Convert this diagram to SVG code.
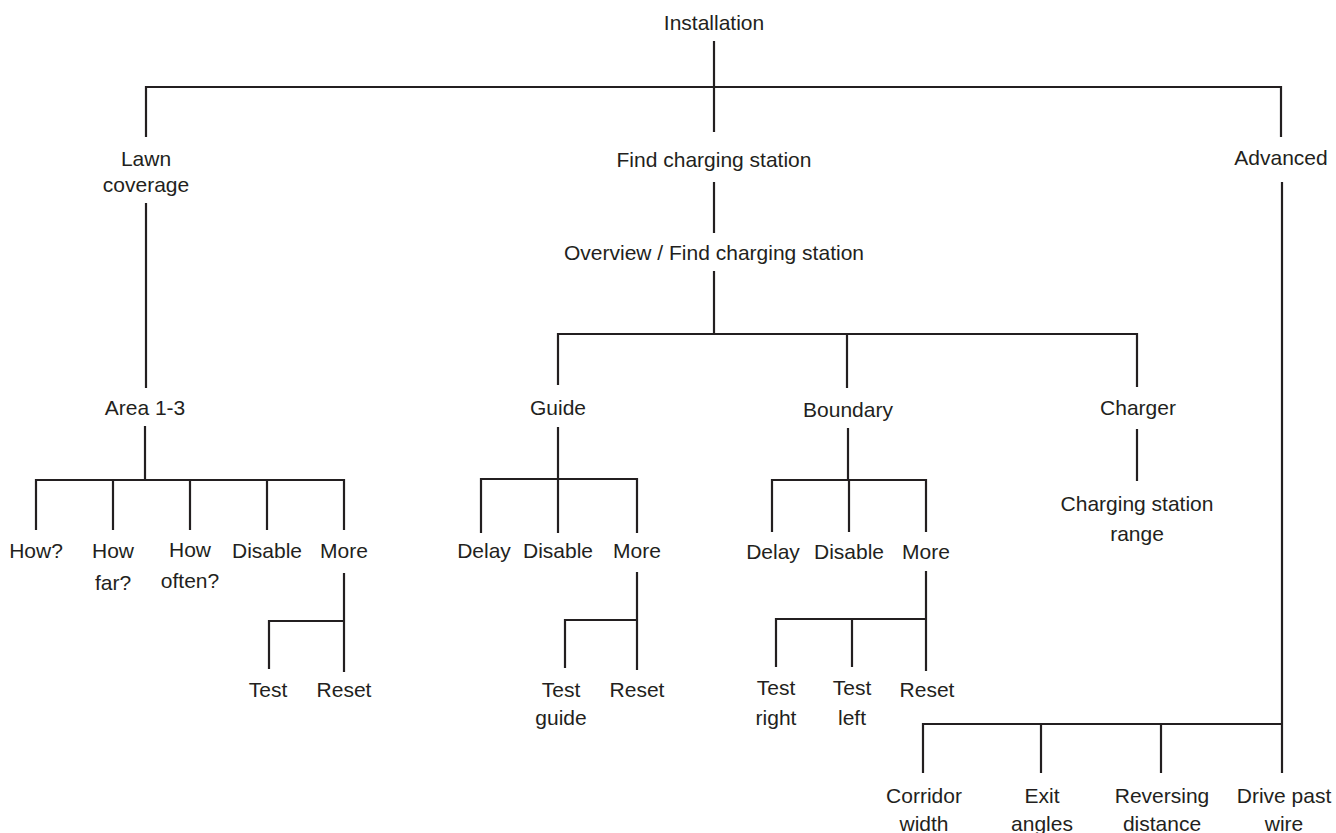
<svg xmlns="http://www.w3.org/2000/svg" width="1336" height="833" viewBox="0 0 1336 833">
<style>
text{font-family:"Liberation Sans",Arial,sans-serif;font-size:21px;fill:#231f20;text-anchor:middle}
.c line,.c polyline{stroke:#231f20;stroke-width:2.2;fill:none;stroke-linejoin:miter;stroke-linecap:butt}
</style>
<rect width="1336" height="833" fill="#ffffff"/>
<g class="c" id="connectors">
<line x1="714" y1="41" x2="714" y2="132"/>
<polyline points="146,137 146,87 1281,87 1281,137"/>
<line x1="714" y1="182" x2="714" y2="233"/>
<line x1="714" y1="271" x2="714" y2="334"/>
<polyline points="558,385 558,334 1137,334 1137,387"/>
<line x1="847" y1="334" x2="847" y2="388"/>
<line x1="146" y1="203" x2="146" y2="388"/>
<line x1="145" y1="426" x2="145" y2="480"/>
<polyline points="36,530 36,480 344,480 344,530"/>
<line x1="113" y1="480" x2="113" y2="530"/>
<line x1="190" y1="480" x2="190" y2="530"/>
<line x1="267" y1="480" x2="267" y2="530"/>
<line x1="344" y1="573" x2="344" y2="672"/>
<polyline points="269,669 269,621 344,621"/>
<line x1="558" y1="427" x2="558" y2="479"/>
<polyline points="481,533 481,479 637,479 637,533"/>
<line x1="558" y1="479" x2="558" y2="533"/>
<line x1="637" y1="572" x2="637" y2="670"/>
<polyline points="565,668 565,620 637,620"/>
<line x1="848" y1="428" x2="848" y2="480"/>
<polyline points="772,532 772,480 926,480 926,532"/>
<line x1="849" y1="480" x2="849" y2="532"/>
<line x1="926" y1="571" x2="926" y2="671"/>
<polyline points="776,667 776,619 926,619"/>
<line x1="852" y1="619" x2="852" y2="667"/>
<line x1="1137" y1="429" x2="1137" y2="481"/>
<line x1="1282" y1="182" x2="1282" y2="773"/>
<polyline points="923,773 923,724 1282,724"/>
<line x1="1041" y1="724" x2="1041" y2="773"/>
<line x1="1161" y1="724" x2="1161" y2="773"/>
</g>
<g id="installation"><text x="714" y="30">Installation</text></g>
<g id="lawn-coverage"><text x="146" y="166">Lawn</text><text x="146" y="192">coverage</text></g>
<g id="find-charging-station"><text x="714" y="167">Find charging station</text></g>
<g id="advanced"><text x="1281" y="165">Advanced</text></g>
<g id="overview"><text x="714" y="260">Overview / Find charging station</text></g>
<g id="area"><text x="145" y="415">Area 1-3</text></g>
<g id="guide"><text x="558" y="415">Guide</text></g>
<g id="boundary"><text x="848" y="417">Boundary</text></g>
<g id="charger"><text x="1138" y="415">Charger</text></g>
<g id="how"><text x="36" y="558">How?</text></g>
<g id="how-far"><text x="113" y="558">How</text><text x="113" y="590">far?</text></g>
<g id="how-often"><text x="190" y="557">How</text><text x="190" y="588">often?</text></g>
<g id="lawn-disable"><text x="267" y="558">Disable</text></g>
<g id="lawn-more"><text x="344" y="558">More</text></g>
<g id="lawn-test"><text x="268" y="697">Test</text></g>
<g id="lawn-reset"><text x="344" y="697">Reset</text></g>
<g id="guide-delay"><text x="484" y="558">Delay</text></g>
<g id="guide-disable"><text x="558" y="558">Disable</text></g>
<g id="guide-more"><text x="637" y="558">More</text></g>
<g id="test-guide"><text x="561" y="697">Test</text><text x="561" y="725">guide</text></g>
<g id="guide-reset"><text x="637" y="697">Reset</text></g>
<g id="boundary-delay"><text x="773" y="559">Delay</text></g>
<g id="boundary-disable"><text x="849" y="559">Disable</text></g>
<g id="boundary-more"><text x="926" y="559">More</text></g>
<g id="test-right"><text x="776" y="695">Test</text><text x="776" y="725">right</text></g>
<g id="test-left"><text x="852" y="695">Test</text><text x="852" y="725">left</text></g>
<g id="boundary-reset"><text x="927" y="697">Reset</text></g>
<g id="charging-station-range"><text x="1137" y="511">Charging station</text><text x="1137" y="541">range</text></g>
<g id="corridor-width"><text x="924" y="803">Corridor</text><text x="924" y="831">width</text></g>
<g id="exit-angles"><text x="1042" y="803">Exit</text><text x="1042" y="831">angles</text></g>
<g id="reversing-distance"><text x="1162" y="803">Reversing</text><text x="1162" y="831">distance</text></g>
<g id="drive-past-wire"><text x="1284" y="803">Drive past</text><text x="1284" y="831">wire</text></g>
</svg>
